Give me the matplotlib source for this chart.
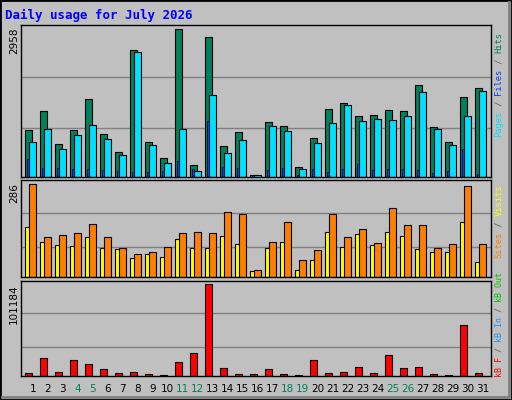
import matplotlib
matplotlib.use("Agg")
import matplotlib.pyplot as plt
import matplotlib.transforms as mtrans
from matplotlib.patches import Rectangle
import numpy as np

days = list(range(1, 32))
weekend = [4, 5, 11, 12, 18, 19, 25, 26]
hits = [950,1331,669,950,1572,870,508,2536,709,388,2958,248,2797,629,910,47,1111,1030,207,789,1371,1492,1231,1251,1351,1331,1853,1010,709,1612,1773]
files = [709,970,569,850,1050,769,448,2495,649,288,970,127,1652,488,749,47,1030,930,167,689,1090,1452,1131,1171,1151,1231,1693,970,649,1231,1713]
pages = [368,187,187,167,167,147,127,107,107,127,328,167,1131,207,187,47,147,187,47,167,107,167,268,147,167,167,147,87,127,569,67]
sites = [286,125,131,137,165,122,88,72,78,94,137,140,137,202,193,23,109,171,51,82,193,122,147,106,212,159,159,91,103,280,103]
visits = [153,109,100,97,125,88,85,60,72,63,116,91,91,128,103,20,88,109,23,54,140,94,134,100,140,128,85,78,78,171,47]
kbytes = [3693,20311,4801,18095,13664,8125,3693,4801,2585,1477,15880,25851,101184,9232,2585,2585,8125,2585,1477,18095,3693,4801,10340,3693,23635,9232,10340,2585,1477,55764,3693]

BG = "#C0C0C0"
W, H = 512, 400
fig = plt.figure(figsize=(W/100, H/100), dpi=100, facecolor=BG)

def ax_at(y0, y1):
    x0, x1 = 20.7, 490.7
    return fig.add_axes([x0/W, 1-y1/H, (x1-x0)/W, (y1-y0)/H], facecolor=BG)

d = np.array(days, dtype=float)
u = 1/15.0
def setup(ax, ymax, frac_top, grids):
    top = ymax/frac_top
    ax.set_xlim(0.19, 0.19+470/15)
    ax.set_ylim(0, top)
    for g in grids:
        ax.axhline(g*top, color="#808080", lw=1, zorder=0)
    ax.set_xticks([]); ax.set_yticks([])
    for s in ax.spines.values():
        s.set_color("black"); s.set_linewidth(1)

ax1 = ax_at(25, 177)
setup(ax1, max(hits), 442/455, [0.325, 0.66])
ax1.bar(d-0.5, hits, width=7*u, align="edge", color="#00805C", edgecolor="black", lw=0.8)
ax1.bar(d-0.5+4*u, files, width=7*u, align="edge", color="#00E0FF", edgecolor="black", lw=0.8)
ax1.bar(d-0.5+2*u, pages, width=2*u, align="edge", color="#0040FF", edgecolor="black", lw=0.5)

ax2 = ax_at(180, 277)
setup(ax2, max(sites), 277/290, [0.314, 0.655])
ax2.bar(d-0.5, visits, width=7*u, align="edge", color="#FFFF00", edgecolor="black", lw=0.8)
ax2.bar(d-0.5+4*u, sites, width=7*u, align="edge", color="#FF8000", edgecolor="black", lw=0.8)

ax3 = ax_at(281, 376)
setup(ax3, max(kbytes), 274/284, [0.31, 0.66])
ax3.bar(d-0.5, kbytes, width=7*u, align="edge", color="#FF0000", edgecolor="black", lw=0.8)

for dd in days:
    fig.text((20.7 + (dd-0.19)*15)/W, 1-389/H, str(dd), ha="center", va="center",
             fontsize=7.5, family="DejaVu Sans",
             color="#00805C" if dd in weekend else "black")

fig.text(5/W, 1-15/H, "Daily usage for July 2026", color="#0000FF", fontsize=9,
         fontweight="bold", family="DejaVu Sans Mono", va="center", ha="left")

for txt, ytop in [(str(max(hits)), 28), (str(max(sites)), 183), (str(max(kbytes)), 284)]:
    fig.text(14/W, 1-ytop/H, txt, rotation=90, ha="center", va="top", fontsize=7.5, family="DejaVu Sans")

def stacked(parts, ybottom, fs, x=499):
    cw = 0.602*fs*100/72
    off = 0
    for s, c in parts:
        tr = mtrans.offset_copy(fig.transFigure, fig=fig, x=0, y=off*72/100, units="points")
        fig.text(x/W, 1-ybottom/H, s, rotation=90, ha="center", va="bottom", color=c,
                 fontsize=fs, family="DejaVu Sans Mono", transform=tr)
        off += cw*len(s)

G = "#606060"
stacked([("Pages", "#00E0FF"), (" / ", G), ("Files", "#0040FF"), (" / ", G), ("Hits", "#00805C")], 137, 6.3)
stacked([("Sites", "#FF8000"), (" / ", G), ("Visits", "#FFFF00")], 258, 6.3)
stacked([("kB F", "#FF0000"), (" / ", G), ("kB In", "#1E90FF"), (" / ", G), ("kB Out", "#00C000")], 377, 6.0)

fig.patches.append(Rectangle((0, 0), 1, 1, transform=fig.transFigure, fill=False, edgecolor="black", lw=2))
fig.lines.append(plt.Line2D([2/W, 509/W, 509/W], [3/H, 3/H, 1-2/H], transform=fig.transFigure, color="#808080", lw=2))

fig.savefig("out.png", dpi=100, facecolor=BG)
